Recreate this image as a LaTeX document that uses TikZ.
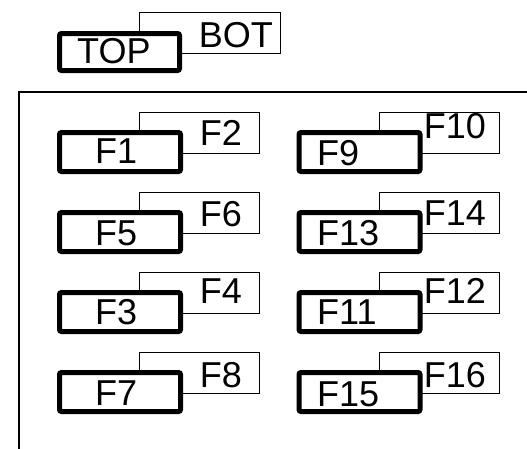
\documentclass[tikz,border=0pt]{standalone}
\usepackage{fontspec}
\setmainfont{Liberation Sans}
\begin{document}
\begin{tikzpicture}[x=1pt,y=-1pt,
  thinbox/.style={draw=black,line width=1pt,fill=white,inner sep=0pt,minimum width=120pt,minimum height=41pt},
  thickbox/.style={draw=black,line width=5pt,fill=white,rounded corners=2pt,inner sep=0pt,minimum width=121pt,minimum height=39pt},
  lbl/.style={inner sep=0pt,font=\fontsize{36}{40}\selectfont}
]
\useasboundingbox (0,0) rectangle (527,448);
\begin{scope}
\clip (0,0) rectangle (527,448);
\draw[line width=1.5pt] (19,470) -- (19,92) -- (560,92);
\end{scope}

% TOP / BOT
\node[thinbox,minimum width=141pt] (bot) at (209.5,32.5) {};
\node[thickbox,minimum width=120pt,minimum height=37pt] (top) at (119.5,52) {};
\node[lbl,anchor=base west] (toptxt) at (77,63) {TOP};
\node[lbl,anchor=base east] (bottxt) at (273,47) {BOT};

% left column
\foreach \i/\j/\y/\tb/\lb in {1/2/152/163/145, 5/6/232/245/226, 3/4/312/324/303, 7/8/392/405/387}{
  \node[thinbox] (f\j) at (199,\y-19.5) {};
  \node[thickbox] (f\i) at (120,\y) {};
  \node[lbl,anchor=base west] (t\i) at (95,\tb) {F\i};
  \node[lbl,anchor=base east] (t\j) at (242,\lb) {F\j};
}
% right column
\foreach \i/\j/\y/\tb/\lb in {9/10/152/165/138, 13/14/232/245/225, 11/12/312/324/303, 15/16/392/406/387}{
  \node[thinbox] (f\j) at (439.5,\y-19.5) {};
  \node[thickbox] (f\i) at (359.5,\y) {};
  \node[lbl,anchor=base west] (t\i) at (317,\tb) {F\i};
  \node[lbl,anchor=base east] (t\j) at (486,\lb) {F\j};
}
\end{tikzpicture}
\end{document}
